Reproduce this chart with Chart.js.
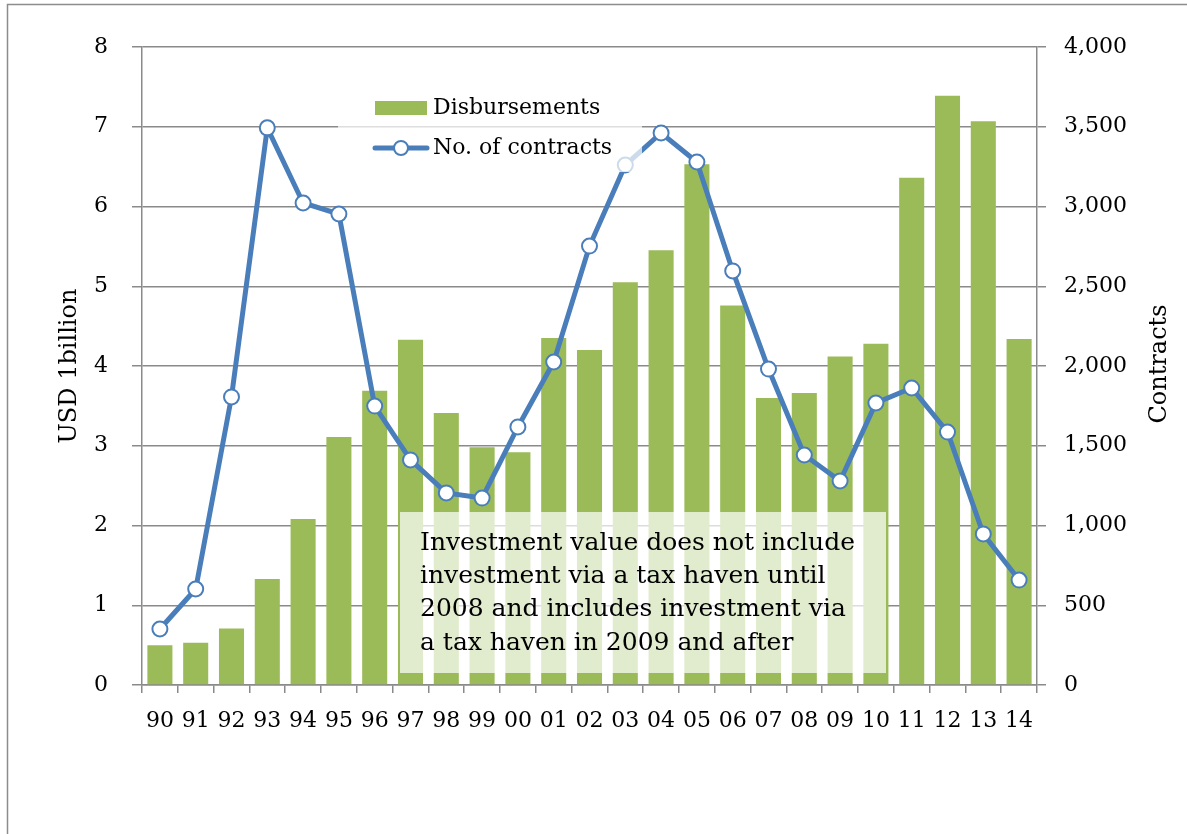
<!DOCTYPE html>
<html>
<head>
<meta charset="utf-8">
<script src="https://cdn.jsdelivr.net/npm/chart.js@4.4.1/dist/chart.umd.min.js"></script>
<style>
  html, body { margin: 0; padding: 0; background: #fff; }
  #wrap { width: 1187px; height: 834px; position: relative; }
</style>
</head>
<body>
<div id="wrap"><canvas id="chart" width="1187" height="834"></canvas></div>
<script>
// Data
const years = ['90', '91', '92', '93', '94', '95', '96', '97', '98', '99', '00', '01', '02',
               '03', '04', '05', '06', '07', '08', '09', '10', '11', '12', '13', '14'];
const disbursements = [0.50, 0.53, 0.71, 1.33, 2.08, 3.11, 3.69, 4.33, 3.41, 2.98, 2.92, 4.35, 4.20,
                       5.05, 5.45, 6.53, 4.76, 3.60, 3.66, 4.12, 4.28, 6.36, 7.39, 7.07, 4.34];
const contracts = [351, 602, 1806, 3493, 3022, 2953, 1749, 1411, 1204, 1172, 1618, 2025, 2752,
                   3260, 3461, 3279, 2596, 1981, 1442, 1279, 1768, 1862, 1586, 947, 658];
const noteLines = [
  'Investment value does not include',
  'investment via a tax haven until',
  '2008 and includes investment via',
  'a tax haven in 2009 and after'
];

const FONT = '"DejaVu Serif", "Liberation Serif", serif';
const GREEN = '#9BBB59';
const BLUE = '#4A7EBB';
const GRID = '#8a8a8a';

Chart.defaults.color = '#000';
Chart.defaults.font.family = FONT;

// legend, note box, axis titles and frame drawn on top of the plot
const overlays = {
  id: 'overlays',
  afterDatasetsDraw(chart) {
    const ctx = chart.ctx;
    const ds = chart.data.datasets;
    ctx.save();

    // legend box (semi transparent, lightens what is under it)
    ctx.fillStyle = 'rgba(255,255,255,0.72)';
    ctx.fillRect(338, 86, 304, 86);

    ctx.fillStyle = ds[0].backgroundColor;
    ctx.fillRect(375, 101, 52, 14);

    ctx.strokeStyle = ds[1].borderColor;
    ctx.lineWidth = 5;
    ctx.lineCap = 'round';
    ctx.beginPath();
    ctx.moveTo(375, 148);
    ctx.lineTo(427, 148);
    ctx.stroke();
    ctx.beginPath();
    ctx.arc(401, 148, 7, 0, Math.PI * 2);
    ctx.fillStyle = '#fff';
    ctx.fill();
    ctx.lineWidth = 2;
    ctx.stroke();

    ctx.fillStyle = '#000';
    ctx.font = '22px ' + FONT;
    ctx.textAlign = 'left';
    ctx.textBaseline = 'middle';
    ctx.fillText(ds[0].label, 433, 108);
    ctx.fillText(ds[1].label, 433, 148);

    // note box
    ctx.fillStyle = 'rgba(255,255,255,0.7)';
    ctx.fillRect(400, 512, 486, 161);
    ctx.fillStyle = '#000';
    ctx.font = '25px ' + FONT;
    noteLines.forEach((t, i) => ctx.fillText(t, 420, 543 + i * 33.4));

    // axis titles, both read bottom to top
    ctx.font = '24px ' + FONT;
    ctx.textAlign = 'center';
    ctx.save();
    ctx.translate(70, 366);
    ctx.rotate(-Math.PI / 2);
    ctx.fillText('USD 1billion', 0, 0);
    ctx.restore();
    ctx.save();
    ctx.translate(1160, 364);
    ctx.rotate(-Math.PI / 2);
    ctx.fillText('Contracts', 0, 0);
    ctx.restore();

    // outer frame (top and left edges visible)
    ctx.strokeStyle = '#8c8c8c';
    ctx.lineWidth = 1.5;
    ctx.beginPath();
    ctx.moveTo(7.5, 834);
    ctx.lineTo(7.5, 4.5);
    ctx.lineTo(1187, 4.5);
    ctx.stroke();

    ctx.restore();
  }
};

new Chart(document.getElementById('chart'), {
  type: 'bar',
  data: {
    labels: years,
    datasets: [
      {
        type: 'bar',
        label: 'Disbursements',
        data: disbursements,
        yAxisID: 'y',
        backgroundColor: GREEN,
        borderWidth: 0,
        barPercentage: 0.7,
        categoryPercentage: 1.0,
        order: 2
      },
      {
        type: 'line',
        label: 'No. of contracts',
        data: contracts,
        yAxisID: 'y1',
        borderColor: BLUE,
        borderWidth: 5,
        tension: 0,
        pointRadius: 7.5,
        pointBackgroundColor: '#fff',
        pointBorderColor: BLUE,
        pointBorderWidth: 2,
        order: 1
      }
    ]
  },
  options: {
    responsive: false,
    animation: false,
    layout: { padding: { top: 47, left: 0, right: 0, bottom: 0 } },
    plugins: {
      legend: { display: false },
      tooltip: { enabled: false }
    },
    scales: {
      x: {
        offset: true,
        grid: { display: true, drawOnChartArea: false, drawTicks: true, tickLength: 8, color: GRID, lineWidth: 1.5, offset: true },
        border: { display: true, color: GRID, width: 1.5 },
        ticks: { font: { size: 22 }, padding: 15, maxRotation: 0, autoSkip: false },
        afterFit: s => { s.height = 149; }
      },
      y: {
        position: 'left',
        min: 0,
        max: 8,
        grid: { color: GRID, lineWidth: 1.5, tickLength: 10 },
        border: { display: true, color: GRID, width: 1.5 },
        ticks: { stepSize: 1, font: { size: 22 }, padding: 24 },
        afterFit: s => { s.width = 142; }
      },
      y1: {
        position: 'right',
        min: 0,
        max: 4000,
        grid: { drawOnChartArea: false, color: GRID, lineWidth: 1.5, tickLength: 9 },
        border: { display: true, color: GRID, width: 1.5 },
        ticks: {
          stepSize: 500,
          font: { size: 22 },
          padding: 18,
          callback: v => v.toLocaleString('en-US')
        },
        afterFit: s => { s.width = 150; }
      }
    }
  },
  plugins: [overlays]
});
</script>
</body>
</html>
